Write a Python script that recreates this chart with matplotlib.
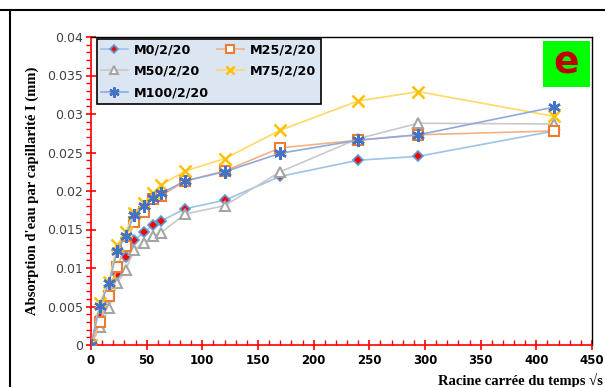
import matplotlib
matplotlib.use('Agg')
import matplotlib.pyplot as plt
from matplotlib.lines import Line2D
from matplotlib.patches import Rectangle
from matplotlib.ticker import MultipleLocator
import numpy as np

# racine carree du temps (sqrt s)
x = [0, 8, 16, 23.5, 31, 39, 48, 56, 63, 84.5, 120, 170, 240, 294, 416]

m0 = [0, 0.0037, 0.0062, 0.0092, 0.0114, 0.0136, 0.0147, 0.0156, 0.0161,
      0.0177, 0.0188, 0.0219, 0.0240, 0.0245, 0.0278]
m25 = [0, 0.0030, 0.0063, 0.0101, 0.0128, 0.0160, 0.0173, 0.0190, 0.0194,
       0.0213, 0.0226, 0.0256, 0.0266, 0.0273, 0.0278]
m50 = [0, 0.0024, 0.0048, 0.0080, 0.0097, 0.0124, 0.0133, 0.0142, 0.0146,
       0.0170, 0.0181, 0.0225, 0.0268, 0.0288, 0.0287]
m75 = [0, 0.0055, 0.0082, 0.0130, 0.0147, 0.0172, 0.0184, 0.0197, 0.0208,
       0.0226, 0.0242, 0.0279, 0.0317, 0.0329, 0.0297]
m100 = [0, 0.0051, 0.0080, 0.0122, 0.0142, 0.0169, 0.0180, 0.0191, 0.0197,
        0.0213, 0.0225, 0.0249, 0.0266, 0.0273, 0.0309]

labels = ['M0/2/20', 'M25/2/20', 'M50/2/20', 'M75/2/20', 'M100/2/20']

asterisk = (6, 2, 0)

fig = plt.figure(figsize=(6.05, 3.87), dpi=100)
ax = fig.add_axes([91/605, 42/387, 501/605, 308/387])

h0, = ax.plot(x, m0, color='#9dc3e6', lw=1.2, marker='D', ms=5,
              mfc='red', mec='#5b9bd5', mew=1.2, label=labels[0], zorder=3)
h50, = ax.plot(x, m50, color='#c9c9c9', lw=1.2, marker='^', ms=7,
               mfc='white', mec='#a5a5a5', mew=1.5, label=labels[2], zorder=3)
h25, = ax.plot(x, m25, color='#f4b183', lw=1.2, marker='s', ms=7,
               mfc='white', mec='#ed7d31', mew=1.5, label=labels[1], zorder=4)
h75, = ax.plot(x, m75, color='#ffd966', lw=1.2, marker='x', ms=8,
               mec='#ffc000', mew=1.8, label=labels[3], zorder=4)
h100, = ax.plot(x, m100, color='#8faadc', lw=1.2, marker=asterisk, ms=9,
                mec='#4472c4', mew=1.8, label=labels[4], zorder=5)

ax.set_xlim(0, 450)
ax.set_ylim(0, 0.04)
ax.xaxis.set_major_locator(MultipleLocator(50))
ax.xaxis.set_minor_locator(MultipleLocator(10))
ax.yaxis.set_major_locator(MultipleLocator(0.005))
ax.yaxis.set_minor_locator(MultipleLocator(0.001))
ax.set_yticks(np.arange(0, 0.0401, 0.005))
ax.set_yticklabels(['0', '0.005', '0.01', '0.015', '0.02', '0.025', '0.03', '0.035', '0.04'])

for s in ['left', 'bottom']:
    ax.spines[s].set_color('red')
    ax.spines[s].set_linewidth(1.2)
for s in ['top', 'right']:
    ax.spines[s].set_color('black')
    ax.spines[s].set_linewidth(1.0)

ax.tick_params(axis='y', which='major', direction='inout', length=7, color='red',
               width=1.2, labelsize=9, labelcolor='#404040', pad=2)
ax.tick_params(axis='y', which='minor', direction='out', length=3.5, color='red', width=1)
ax.tick_params(axis='x', which='major', direction='inout', length=7, color='red',
               width=1.2, labelsize=8.5, pad=3)
ax.tick_params(axis='x', which='minor', direction='in', length=3.5, color='red', width=1)
for t in ax.get_xticklabels():
    t.set_fontweight('bold')

ax.set_ylabel("Absorption d'eau par capillarité I (mm)", family='Liberation Serif',
              fontweight='bold', fontsize=10.5, labelpad=6)
fig.text(603/605, 1 - 380/387, 'Racine carrée du temps √s', family='Liberation Serif',
         fontweight='bold', fontsize=10.5, ha='right', va='center')

leg = ax.legend(handles=[h0, h50, h100, h25, h75], ncol=2, loc='upper left',
                bbox_to_anchor=(0.011, 0.995), frameon=True, fancybox=False,
                facecolor='#dce6f2', edgecolor='black', framealpha=1,
                prop={'weight': 'bold', 'size': 9.2}, handlelength=2.1,
                columnspacing=0.6, labelspacing=0.7, borderpad=0.35,
                handletextpad=0.5, borderaxespad=0, markerscale=0.8)
leg.get_frame().set_linewidth(1.2)

# panel letter
fig.add_artist(Rectangle((543/605, 1 - 87/387), 47/605, 46/387,
                         transform=fig.transFigure, fc='#00ff00', ec='none', zorder=5))
fig.text(566.5/605, 1 - 64/387, 'e', color='#c00000', fontsize=27, fontweight='bold',
         ha='center', va='center', zorder=6)

# outer frame
fig.add_artist(Line2D([0, 1], [1 - 10/387, 1 - 10/387], color='black', lw=1.5))
fig.add_artist(Line2D([9.5/605, 9.5/605], [0, 1 - 10/387], color='black', lw=1.5))

fig.savefig('out.png', dpi=100)
